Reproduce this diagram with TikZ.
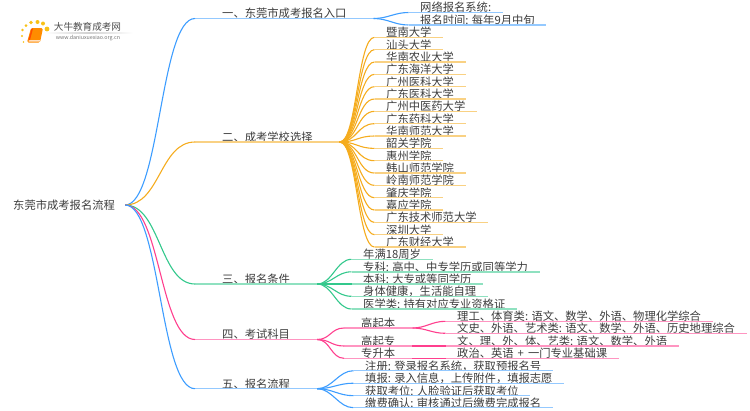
\documentclass[tikz,border=0pt]{standalone}
\usepackage{fontspec}
\setmainfont{Noto Sans CJK SC}
\definecolor{lineblue}{HTML}{3D9DFF}
\definecolor{lineorange}{HTML}{F5AC1E}
\definecolor{linegreen}{HTML}{33C88C}
\definecolor{linepink}{HTML}{FF3F8E}
\definecolor{textgrey}{HTML}{3C3C3C}
\tikzset{
  txt/.style={inner ysep=0pt,text height=9pt,text depth=.4pt,text=textgrey,font=\fontsize{11.3}{13}\selectfont},
  root/.style={txt,inner xsep=10pt,anchor=west},
  branch/.style={txt,inner xsep=27pt,anchor=south west},
  leaf/.style={txt,inner xsep=11.5pt,anchor=south west},
  midleaf/.style={txt,inner xsep=17pt,anchor=south west},
  curve/.style={line width=1.1pt,out=0,in=180,distance=#1},
  under/.style={line width=1.4pt,#1!55}
}
\begin{document}
\begin{tikzpicture}[x=1pt,y=-1pt]
  \useasboundingbox (0,0) rectangle (750,410);
  % logo
  \foreach \dotx/\doty/\dotr in {47/29/2.4,43/23.5/2,37.5/22/2,31/22.5/1.9,26/25.5/1.5,22.5/30/1.3,22/36/1.1,23.5/42/.9}
    \fill[lineorange!75!yellow] (\dotx,\doty) circle (\dotr);
  \fill[rounded corners=1.5pt,orange!90!yellow] (31,28) -- (43,28) -- (40,42.5) -- (27,42.5) -- cycle;
  \fill[orange!25] (29,40) -- (40,40) -- (39.6,41.5) -- (28.6,41.5) -- cycle;
  \fill[orange!60!red] (31.5,28.5) -- (33,28.5) -- (30,40) -- (28.5,40) -- cycle;
  \shade[left color=white,right color=white,middle color=black!18] (45,32.8) rectangle (133,33.4);
  \node (logotitle) at (87.5,26.5) {\fontsize{9.6}{11}\selectfont\textcolor{black!70}{大牛教育成考网}};
  \node (logourl) at (88,38.5) {\fontsize{5.3}{6}\selectfont\textcolor{black!55}{www.daniuxuexiao.org.cn}};

  \node[root] (start) at (3,205) {东莞市成考报名流程};
  % main branches
  \node[branch] (b1) at (195,18.5) {一、东莞市成考报名入口};
  \node[branch] (b2) at (195,142) {二、成考学校选择};
  \node[branch] (b3) at (195,284) {三、报名条件};
  \node[branch] (b4) at (195,339.5) {四、考试科目};
  \node[branch] (b5) at (195,388.7) {五、报名流程};
  \foreach \i/\col in {1/lineblue,2/lineorange,3/linegreen,4/linepink,5/lineblue}{
    \draw[under=\col] (b\i.south west) -- (b\i.south east);
    \draw[\col,curve=35pt] (start.east) to (b\i.south west);
  }

  % branch 1
  \foreach \i/\ypos/\label in {1/12.5/网络报名系统:,2/25/报名时间: 每年9月中旬}{
    \node[leaf] (a\i) at (408.5,\ypos) {\label};
    \draw[under=lineblue] (a\i.south west) -- (a\i.south east);
    \draw[lineblue,curve=14pt] (b1.south east) to (a\i.south west);
  }
  % branch 2
  \foreach \i/\label in {0/暨南大学,1/汕头大学,2/华南农业大学,3/广东海洋大学,4/广州医科大学,5/广东医科大学,6/广州中医药大学,7/广东药科大学,8/华南师范大学,9/韶关学院,10/惠州学院,11/韩山师范学院,12/岭南师范学院,13/肇庆学院,14/嘉应学院,15/广东技术师范大学,16/深圳大学,17/广东财经大学}{
    \node[leaf] (s\i) at (374.5,37.3+12.34*\i) {\label};
    \draw[under=lineorange] (s\i.south west) -- (s\i.south east);
    \draw[lineorange,curve=17pt] (b2.south east) to (s\i.south west);
  }
  % branch 3
  \foreach \i/\ypos/\label in {1/259.3/年满18周岁,2/271.8/专科: 高中、中专学历或同等学力,3/284/本科: 大专或等同学历,4/296.3/身体健康，生活能自理,5/309/医学类: 持有对应专业资格证}{
    \node[leaf] (c\i) at (351.5,\ypos) {\label};
    \draw[under=linegreen] (c\i.south west) -- (c\i.south east);
    \draw[linegreen,curve=15pt] (b3.south east) to (c\i.south west);
  }
  % branch 4
  \foreach \i/\ypos/\label in {1/328/高起本,2/346/高起专,3/358.3/专升本}{
    \node[midleaf] (d\i) at (344,\ypos) {\label};
    \draw[under=linepink] (d\i.south west) -- (d\i.south east);
    \draw[linepink,curve=13pt] (b4.south east) to (d\i.south west);
  }
  \foreach \i/\from/\ypos/\label in {1/1/321.3/理工、体育类: 语文、数学、外语、物理化学综合,2/1/333.3/文史、外语、艺术类: 语文、数学、外语、历史地理综合,3/2/346/文、理、外、体、艺类: 语文、数学、外语,4/3/358.3/政治、英语\hspace{1.5pt} + \hspace{1.5pt}一门专业基础课}{
    \node[leaf] (e\i) at (445.5,\ypos) {\label};
    \draw[under=linepink] (e\i.south west) -- (e\i.south east);
    \draw[linepink,curve=14pt] (d\from.south east) to (e\i.south west);
  }
  % branch 5
  \foreach \i/\ypos/\label in {1/370.7/注册: 登录报名系统，获取预报名号,2/383.2/填报: 录入信息，上传附件，填报志愿,3/395.7/获取考位: 人脸验证后获取考位,4/407.7/缴费确认: 审核通过后缴费完成报名}{
    \node[leaf] (f\i) at (353.5,\ypos) {\label};
    \draw[under=lineblue] (f\i.south west) -- (f\i.south east);
    \draw[lineblue,curve=15pt] (b5.south east) to (f\i.south west);
  }
\end{tikzpicture}
\end{document}
